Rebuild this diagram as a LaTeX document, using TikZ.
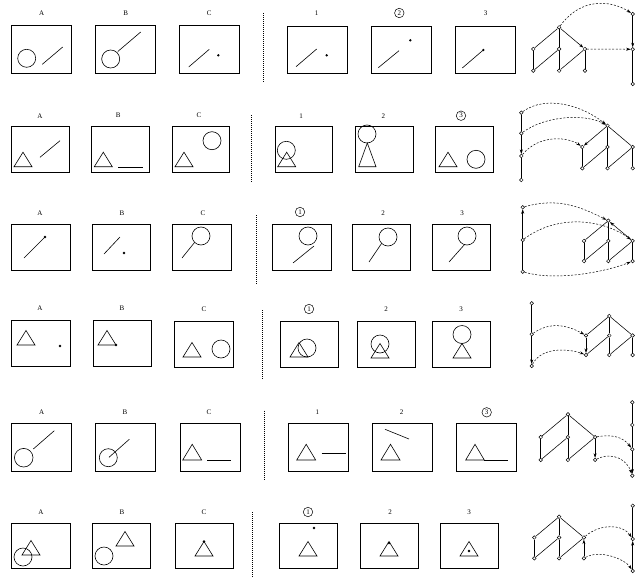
\documentclass[tikz,border=0pt]{standalone}
\usepackage{fontspec}
\setmainfont{Liberation Serif}
\usetikzlibrary{arrows.meta}
\tikzset{
    panel/.style={draw, line width=0.7pt},
    shp/.style={line width=0.6pt},
    lbl/.style={font=\fontsize{7}{8}\selectfont, inner sep=1pt},
    clbl/.style={circle, draw, line width=0.5pt, font=\fontsize{7}{8}\selectfont, inner sep=0.6pt, minimum size=9.5pt},
    sepline/.style={line width=0.6pt, dash pattern=on 1pt off 1pt},
    latnode/.style={circle, draw, fill=white, inner sep=0pt, minimum size=3.6pt, line width=0.5pt},
    latedge/.style={line width=0.55pt},
    latarrow/.style={line width=0.55pt, -{Stealth[length=4.5pt, width=3pt]}},
    maparrow/.style={line width=0.5pt, dash pattern=on 2pt off 1.6pt, -{Stealth[length=4.5pt, width=3pt]}}
}
% prefix, x of left column, column step, y of top, row step
\newcommand{\lattice}[5]{%
  \node[latnode] (#1-t) at ({#2+#3},#4) {};
  \node[latnode] (#1-l) at (#2,{#4+#5}) {};
  \node[latnode] (#1-m) at ({#2+#3},{#4+#5}) {};
  \node[latnode] (#1-r) at ({#2+2*#3},{#4+#5}) {};
  \node[latnode] (#1-bl) at (#2,{#4+2*#5}) {};
  \node[latnode] (#1-bm) at ({#2+#3},{#4+2*#5}) {};
  \node[latnode] (#1-br) at ({#2+2*#3},{#4+2*#5}) {};
}
\newcommand{\tri}[2]{\draw[shp] (#1,#2) -- ++(18,0) -- ++(-9,-14.5) -- cycle;}
\newcommand{\dotat}[2]{\fill (#1,#2) circle (1.3pt);}

\begin{document}
\begin{tikzpicture}[x=1pt, y=-1pt]
  \useasboundingbox (0,0) rectangle (644,578);

  % row 1
  \node[lbl] (r1A) at (41.7,13) {A};
  \node[lbl] (r1B) at (125.7,13) {B};
  \node[lbl] (r1C) at (209.3,13) {C};
  \node[lbl] (r1n1) at (316.7,13) {1};
  \node[clbl] (r1n2) at (399.3,13) {2};
  \node[lbl] (r1n3) at (485.7,13) {3};
  \draw[panel] (11.7,25) rectangle (71.7,73);
  \draw[panel] (95.7,25) rectangle (155.7,73);
  \draw[panel] (179.3,25) rectangle (239.3,73);
  \draw[panel] (287.3,26) rectangle (347.3,73);
  \draw[panel] (371.7,26) rectangle (431.7,73);
  \draw[panel] (455.3,26) rectangle (515.3,73);
  \draw[sepline] (263,13) -- (263,82);
  \draw[shp] (26.7,58.3) circle (9pt);
  \draw[shp] (42.3,64.3) -- (62.7,47);
  \draw[shp] (110.7,59) circle (9pt);
  \draw[shp] (117.8,51.5) -- (140.7,32);
  \draw[shp] (188.7,67) -- (209.3,49.3);
  \dotat{218.3}{55.3}
  \draw[shp] (296,66.7) -- (316.7,49);
  \dotat{326.7}{55.3}
  \draw[shp] (378.3,67.7) -- (399,50.7);
  \dotat{410.3}{40.3}
  \draw[shp] (462.3,68) -- (483.3,50);
  \dotat{483.3}{50}
  \lattice{a}{533.3}{25.8}{27.3}{21.7}
  \node[latnode] (a1) at (632.7,14) {};
  \node[latnode] (a2) at (632.7,49.3) {};
  \node[latnode] (a3) at (632.7,84) {};
  \foreach \p/\q in {t/l,t/m,l/bl,bl/m,m/bm,bm/r,r/br}
    \draw[latedge] (a-\p) -- (a-\q);
  \draw[latarrow] (a-t) -- (a-r);
  \draw[latarrow] (a1) -- (a2);
  \draw[latedge] (a2) -- (a3);
  \draw[maparrow] (a-t) .. controls +(22,-30) and +(-22,-14) .. (a1);
  \draw[maparrow] (a-r) -- (a2);

  % row 2
  \node[lbl] (r2A) at (40,115.7) {A};
  \node[lbl] (r2B) at (118.3,115.7) {B};
  \node[lbl] (r2C) at (199,115.7) {C};
  \node[lbl] (r2n1) at (301,115.7) {1};
  \node[lbl] (r2n2) at (383.3,115.7) {2};
  \node[clbl] (r2n3) at (461,115.7) {3};
  \draw[panel] (11.7,126) rectangle (69,172.7);
  \draw[panel] (91.7,126) rectangle (149,172.7);
  \draw[panel] (172.3,126) rectangle (229.3,172.7);
  \draw[panel] (275,126) rectangle (332.7,172.7);
  \draw[panel] (355.7,126) rectangle (413.3,172.7);
  \draw[panel] (435.7,126) rectangle (493.3,172.7);
  \draw[sepline] (251.7,115) -- (251.7,181.7);
  \tri{14}{166.7}
  \draw[shp] (40,157.3) -- (60,140.7);
  \tri{94.3}{166.7}
  \draw[shp] (118.3,167) -- (143.3,167);
  \tri{175}{166.7}
  \draw[shp] (212,140.7) circle (9pt);
  \draw[shp] (286.3,150.3) circle (9pt);
  \tri{277.7}{166.7}
  \draw[shp] (367,134) circle (9pt);
  \draw[shp] (358.7,166.7) -- (376,166.7) -- (367.3,143) -- cycle;
  \tri{439}{166.7}
  \draw[shp] (476,159.3) circle (9pt);
  \lattice{b}{582.3}{25.2}{125.7}{21.3}
  \node[latnode] (b1) at (521.3,112.7) {};
  \node[latnode] (b2) at (521.3,133.3) {};
  \node[latnode] (b3) at (521.3,156) {};
  \node[latnode] (b4) at (521.3,180) {};
  \foreach \p/\q in {t/m,t/r,l/bl,bl/m,m/bm,bm/r,r/br}
    \draw[latedge] (b-\p) -- (b-\q);
  \draw[latarrow] (b-t) -- (b-l);
  \draw[latedge] (b1) -- (b2);
  \draw[latarrow] (b2) -- (b3);
  \draw[latedge] (b3) -- (b4);
  \draw[maparrow] (b1) .. controls +(25,-18) and +(-25,-20) .. (b-t);
  \draw[maparrow] (b2) .. controls +(25,-18) and +(-22,-12) .. (b-t);
  \draw[maparrow] (b3) .. controls +(18,-22) and +(-14,-10) .. (b-l);

  % row 3
  \node[lbl] (r3A) at (40,213) {A};
  \node[lbl] (r3B) at (122,213) {B};
  \node[lbl] (r3C) at (203,213) {C};
  \node[clbl] (r3n1) at (300,212) {1};
  \node[lbl] (r3n2) at (383,213) {2};
  \node[lbl] (r3n3) at (462,213) {3};
  \draw[panel] (11,224) rectangle (70,270);
  \draw[panel] (92,224) rectangle (150,270);
  \draw[panel] (172,224) rectangle (231,270);
  \draw[panel] (272,224) rectangle (331,270);
  \draw[panel] (352,224) rectangle (410,270);
  \draw[panel] (432,224) rectangle (490,270);
  \draw[sepline] (256,215) -- (256,285);
  \draw[shp] (24,258) -- (45,237);
  \dotat{45}{237}
  \draw[shp] (104,254) -- (120,237);
  \dotat{124}{253}
  \draw[shp] (201,236) circle (9pt);
  \draw[shp] (182,258) -- (194.6,242.4);
  \draw[shp] (308,236) circle (9pt);
  \draw[shp] (293,263) -- (314,246);
  \draw[shp] (388,237) circle (9pt);
  \draw[shp] (369,262) -- (381.6,243.4);
  \draw[shp] (467,236) circle (9pt);
  \draw[shp] (449,262) -- (464.5,244.6);
  \lattice{c}{584}{24.3}{220.7}{20.2}
  \node[latnode] (c1) at (522.7,207.3) {};
  \node[latnode] (c2) at (522.7,240) {};
  \node[latnode] (c3) at (522.7,271.7) {};
  \foreach \p/\q in {t/l,t/m,l/bl,bl/m,m/bm,bm/r,r/br}
    \draw[latedge] (c-\p) -- (c-\q);
  \draw[latarrow] (c-r) -- (c-t);
  \draw[latarrow] (c2) -- (c1);
  \draw[latedge] (c2) -- (c3);
  \draw[maparrow] (c1) .. controls +(35,-10) and +(-28,-14) .. (c-t);
  \draw[maparrow] (c2) .. controls +(35,-26) and +(-30,-22) .. (c-r);
  \draw[maparrow] (c3) .. controls +(35,10) and +(-25,10) .. (c-br);

  % row 4
  \node[lbl] (r4A) at (40,308) {A};
  \node[lbl] (r4B) at (122,308) {B};
  \node[lbl] (r4C) at (204,309) {C};
  \node[clbl] (r4n1) at (309,309) {1};
  \node[lbl] (r4n2) at (386,309) {2};
  \node[lbl] (r4n3) at (461,309) {3};
  \draw[panel] (11,320) rectangle (70,366);
  \draw[panel] (93,320) rectangle (151,366);
  \draw[panel] (174,321) rectangle (233,367);
  \draw[panel] (280,321) rectangle (338,367);
  \draw[panel] (357,321) rectangle (415,367);
  \draw[panel] (432,321) rectangle (490,367);
  \draw[sepline] (262,310) -- (262,380);
  \tri{17}{345}
  \dotat{60}{346}
  \tri{98}{345}
  \dotat{116}{345}
  \tri{183}{357}
  \draw[shp] (221,349) circle (9pt);
  \tri{290}{357}
  \draw[shp] (307,348) circle (9pt);
  \draw[shp] (380,344) circle (9pt);
  \tri{371}{358}
  \draw[shp] (462,334.5) circle (9pt);
  \tri{453}{358}
  \lattice{d}{586}{23.3}{316}{19.5}
  \node[latnode] (d1) at (531.7,303.3) {};
  \node[latnode] (d2) at (531.7,334.3) {};
  \node[latnode] (d3) at (531.7,366) {};
  \foreach \p/\q in {t/l,t/m,t/r,bl/m,m/bm,bm/r,r/br}
    \draw[latedge] (d-\p) -- (d-\q);
  \draw[latarrow] (d-l) -- (d-bl);
  \draw[latedge] (d1) -- (d2);
  \draw[latarrow] (d2) -- (d3);
  \draw[maparrow] (d2) .. controls +(20,-14) and +(-16,-9) .. (d-l);
  \draw[maparrow] (d3) .. controls +(10,-20) and +(-16,-6) .. (d-bl);

  % row 5
  \node[lbl] (r5A) at (41.7,412.3) {A};
  \node[lbl] (r5B) at (125,412.3) {B};
  \node[lbl] (r5C) at (209,412.3) {C};
  \node[lbl] (r5n1) at (317.3,412.3) {1};
  \node[lbl] (r5n2) at (401.7,412.3) {2};
  \node[clbl] (r5n3) at (486.7,412.3) {3};
  \draw[panel] (11.7,423.3) rectangle (71.7,471);
  \draw[panel] (95.7,423.3) rectangle (155.7,471);
  \draw[panel] (180,423.3) rectangle (240,471);
  \draw[panel] (288.3,423.3) rectangle (348.3,471);
  \draw[panel] (372.7,423.3) rectangle (432.7,471);
  \draw[panel] (456.7,423.3) rectangle (516.7,471);
  \draw[sepline] (264,410.7) -- (264,480);
  \draw[shp] (23.7,457.7) circle (9.3pt);
  \draw[shp] (33.3,449) -- (54.3,430.7);
  \draw[shp] (108.3,457.7) circle (9pt);
  \draw[shp] (109,457.3) -- (129.3,439.3);
  \draw[shp] (182.7,460) -- (201.7,460) -- (192.2,444.3) -- cycle;
  \draw[shp] (207.3,460) -- (231,460);
  \draw[shp] (296.7,460) -- (315.7,460) -- (306.2,444.3) -- cycle;
  \draw[shp] (321.7,453.7) -- (346,453.7);
  \draw[shp] (381,460) -- (400,460) -- (390.5,444.3) -- cycle;
  \draw[shp] (385,429.3) -- (409,439);
  \draw[shp] (465.7,460) -- (484.3,460) -- (475,444.3) -- cycle;
  \draw[shp] (484.3,460) -- (508.3,460);
  \lattice{e}{540.7}{27.2}{414.3}{22.8}
  \node[latnode] (e1) at (632.3,402.3) {};
  \node[latnode] (e2) at (632.3,425) {};
  \node[latnode] (e3) at (632.3,449.3) {};
  \node[latnode] (e4) at (632.3,475.7) {};
  \foreach \p/\q in {t/l,t/m,t/r,l/bl,bl/m,m/bm,bm/r}
    \draw[latedge] (e-\p) -- (e-\q);
  \draw[latarrow] (e-r) -- (e-br);
  \draw[latedge] (e1) -- (e2);
  \draw[latedge] (e2) -- (e3);
  \draw[latarrow] (e3) -- (e4);
  \draw[maparrow] (e-r) .. controls +(18,-3) and +(-9,-12) .. (e3);
  \draw[maparrow] (e-br) .. controls +(18,-9) and +(-5,-15) .. (e4);

  % row 6
  \node[lbl] (r6A) at (41,512) {A};
  \node[lbl] (r6B) at (122,512) {B};
  \node[lbl] (r6C) at (204,512) {C};
  \node[clbl] (r6n1) at (308,512) {1};
  \node[lbl] (r6n2) at (390,512) {2};
  \node[lbl] (r6n3) at (469,512) {3};
  \draw[panel] (11,523) rectangle (70,568);
  \draw[panel] (92,523) rectangle (150,568);
  \draw[panel] (175,523) rectangle (233,568);
  \draw[panel] (279,523) rectangle (337,568);
  \draw[panel] (360,523) rectangle (418,568);
  \draw[panel] (440,523) rectangle (498,568);
  \draw[sepline] (252,512) -- (252,578);
  \draw[shp] (23,557) circle (9pt);
  \tri{22}{555}
  \draw[shp] (104,556) circle (9pt);
  \tri{116}{546}
  \tri{195}{556}
  \dotat{204}{541.5}
  \tri{299}{556}
  \dotat{314}{528}
  \tri{380}{556}
  \dotat{389}{543}
  \tri{460}{556}
  \dotat{469}{551}
  \lattice{f}{534.3}{24.8}{516.7}{20.8}
  \node[latnode] (f1) at (632.7,505.7) {};
  \node[latnode] (f2) at (632.7,539) {};
  \node[latnode] (f3) at (632.7,571) {};
  \foreach \p/\q in {t/l,t/m,t/r,l/bl,bl/m,m/bm,bm/r}
    \draw[latedge] (f-\p) -- (f-\q);
  \draw[latarrow] (f-br) -- (f-r);
  \draw[latedge] (f1) -- (f2);
  \draw[latarrow] (f3) -- (f2);
  \draw[maparrow] (f-r) .. controls +(16,-14) and +(-10,-15) .. (f2);
  \draw[maparrow] (f-br) .. controls +(16,-9) and +(-8,-12) .. (f3);
\end{tikzpicture}
\end{document}
